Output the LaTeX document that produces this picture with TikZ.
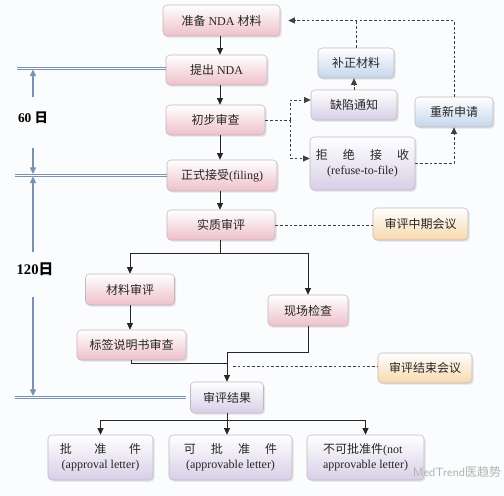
\documentclass[tikz,border=0pt]{standalone}
\usepackage{fontspec}
\setmainfont{Liberation Serif}
\newfontfamily\cjk{Noto Sans CJK SC}
\usetikzlibrary{arrows.meta,shadows,calc}

\definecolor{pinkfill}{RGB}{238,192,202}
\definecolor{bluefill}{RGB}{196,214,236}
\definecolor{lavfill}{RGB}{215,207,231}
\definecolor{yellowfill}{RGB}{248,216,172}
\definecolor{boxline}{RGB}{196,182,192}
\definecolor{timecol}{RGB}{122,146,176}
\definecolor{bgcol}{RGB}{250,252,253}

\newcommand{\zh}[1]{{\cjk #1}}

\begin{document}
\begin{tikzpicture}[
    x=0.75pt, y=-0.75pt,
    >={Triangle[length=5pt,width=4.5pt]},
    font=\fontsize{9}{11}\selectfont,
    sz/.style 2 args = {minimum width=#1*0.75pt, minimum height=#2*0.75pt},
    box/.style      = {draw=boxline, rounded corners=3pt, align=center,
                       inner sep=1pt, text=black!85, shading=axis, top color=white,
                       drop shadow={opacity=0.2, shadow xshift=1.2pt, shadow yshift=-1.2pt}},
    pinkbox/.style  = {box, bottom color=pinkfill},
    bluebox/.style  = {box, bottom color=bluefill},
    lavbox/.style   = {box, bottom color=lavfill},
    yellowbox/.style= {box, bottom color=yellowfill},
    flow/.style     = {draw=black!85, semithick},
    dashline/.style = {draw=black!75, semithick, dash pattern=on 2pt off 1.6pt},
    rule/.style     = {draw=timecol, line width=0.7pt},
    timeline/.style = {draw=timecol, line width=1.1pt,
                       -{Triangle[length=5pt,width=4.5pt]}}
]
\useasboundingbox[fill=bgcol] (0,0) rectangle (504,496);

% =========================================================
% MAIN COLUMN
% =========================================================
\node[pinkbox, sz={117}{31}] (prep)    at (221.5,20.5) {\zh{准备} NDA \zh{材料}};
\node[pinkbox, sz={101}{30}] (submit)  at (216.5,70)   {\zh{提出} NDA};
\node[pinkbox, sz={99}{30}]  (initial) at (215.5,120)  {\zh{初步审查}};
\node[pinkbox, sz={110}{31}] (filing)  at (222,175.5)  {\zh{正式接受}(filing)};
\node[pinkbox, sz={108}{30}] (subst)   at (221,225)    {\zh{实质审评}};

% =========================================================
% REVIEW BRANCHES
% =========================================================
\node[pinkbox, sz={89}{31}]  (matrev)  at (130,289.5)  {\zh{材料审评}};
\node[pinkbox, sz={109}{30}] (label)   at (131.5,345)  {\zh{标签说明书审查}};
\node[pinkbox, sz={80}{31}]  (site)    at (308,310.5)  {\zh{现场检查}};
\node[lavbox,  sz={73}{31}]  (result)  at (227,397.5)  {\zh{审评结果}};

% =========================================================
% DECISION LETTERS
% =========================================================
\node[lavbox, sz={105}{45}] (approval)   at (100.5,457.5)
  {\makebox[61pt][s]{\zh{批}\hfill\zh{准}\hfill\zh{件}}\\(approval letter)};
\node[lavbox, sz={123}{45}] (approvable) at (230.5,457.5)
  {\makebox[70pt][s]{\zh{可}\hfill\zh{批}\hfill\zh{准}\hfill\zh{件}}\\(approvable letter)};
\node[lavbox, sz={117}{45}, align=left] (notappr) at (365.5,457.5)
  {\zh{不可批准件}(not\\approvable letter)};

% =========================================================
% SIDE BOXES (DEFECTS / REFUSAL / MEETINGS)
% =========================================================
\node[bluebox, sz={76}{30}]  (supp)    at (356,63)     {\zh{补正材料}};
\node[lavbox,  sz={86}{30}]  (defect)  at (354,105)    {\zh{缺陷通知}};
\node[lavbox,  sz={105}{53}] (refuse)  at (362.5,163.5)
  {\makebox[70pt][s]{\zh{拒}\hfill\zh{绝}\hfill\zh{接}\hfill\zh{收}}\\(refuse-to-file)};
\node[bluebox, sz={78}{30}]  (resub)   at (454,112)    {\zh{重新申请}};
\node[yellowbox, sz={95}{32}] (midmeet) at (420.5,224) {\zh{审评中期会议}};
\node[yellowbox, sz={94}{30}] (endmeet) at (425,368)   {\zh{审评结束会议}};

% =========================================================
% TIMELINE
% =========================================================
\coordinate (r0a) at (17,67);   \coordinate (r0b) at (17,69.5);
\coordinate (r1a) at (15,174);  \coordinate (r1b) at (15,176.5);
\coordinate (r2a) at (15,396);  \coordinate (r2b) at (15,398.5);
\draw[rule] (r0a) -- (r0a -| submit.west);
\draw[rule] (r0b) -- (r0b -| submit.west);
\draw[rule] (r1a) -- (r1a -| filing.west);
\draw[rule] (r1b) -- (r1b -| filing.west);
\draw[rule] (r2a) -- ($(r2a -| result.west)+(-4,0)$);
\draw[rule] (r2b) -- ($(r2b -| result.west)+(-4,0)$);

\node[font=\fontsize{10}{12}\selectfont\bfseries] (d60)  at (33,118) {60 \zh{日}};
\node[font=\fontsize{11}{13}\selectfont\bfseries] (d120) at (35,269) {120\zh{日}};

\coordinate (a1) at (33,97);
\coordinate (a2) at (33,148);
\coordinate (a3) at (33,252);
\coordinate (a4) at (33,297);
\draw[timeline] (a1) -- (a1 |- r0b);
\draw[timeline] (a2) -- (a2 |- r1a);
\draw[timeline] (a3) -- (a3 |- r1b);
\draw[timeline] (a4) -- (a4 |- r2a);

% =========================================================
% ARROWS
% =========================================================
\coordinate (spine) at (220,0);
\draw[flow,->] (prep.south -| spine)    -- (submit.north -| spine);
\draw[flow,->] (submit.south -| spine)  -- (initial.north -| spine);
\draw[flow,->] (initial.south -| spine) -- (filing.north -| spine);
\draw[flow,->] (filing.south -| spine)  -- (subst.north -| spine);

% split into material review and site inspection
\coordinate (splitY) at (0,253);
\draw[flow] (subst.south -| spine) -- (spine |- splitY);
\draw[flow,->] (spine |- splitY) -| (matrev.north);
\draw[flow,->] (spine |- splitY) -| (site.north);
\draw[flow,->] (matrev.south) -- (matrev.south |- label.north);

% merge into review result
\coordinate (mergeY) at (0,352);
\coordinate (labelY) at (0,363);
\draw[flow] (site.south) |- (result.north |- mergeY) -- (result.north |- labelY);
\draw[flow,->] (label.south) -- (label.south |- labelY) -| (result.north);

% decisions
\coordinate (decY) at (0,420);
\draw[flow,->] (result.south) -- (result.south |- approvable.north);
\draw[flow,->] (approval.north |- decY) -- (approval.north);
\draw[flow,->] (notappr.north |- decY) -- (notappr.north);
\draw[flow] (approval.north |- decY) -- (notappr.north |- decY);

% meetings
\draw[dashline] (subst.east) -- (subst.east -| midmeet.west);
\draw[dashline] ($(result.north |- endmeet.west)+(6,-2)$) -- ($(endmeet.west)+(0,-2)$);

% defects and refusal
\coordinate (branchX) at (290,0);
\draw[dashline] (initial.east) -- (initial.east -| branchX);
\draw[dashline,->] (initial.east -| branchX) |- ([yshift=3.75pt]defect.west);
\draw[dashline,->] (initial.east -| branchX) |- ([yshift=3.75pt]refuse.west);
\draw[dashline,->] (defect.north) -- (defect.north |- supp.south);
\draw[dashline] (supp.north) -- (supp.north |- prep.east);
\draw[dashline,->] (refuse.east) -| (resub.south);
\draw[dashline,->, shorten >=6pt] (resub.north) |- (prep.east);

% watermark
\node[text=black!30, font=\fontsize{9}{11}\selectfont\sffamily] (mark) at (457,472)
  {MedTrend\zh{医趋势}};

\end{tikzpicture}
\end{document}
